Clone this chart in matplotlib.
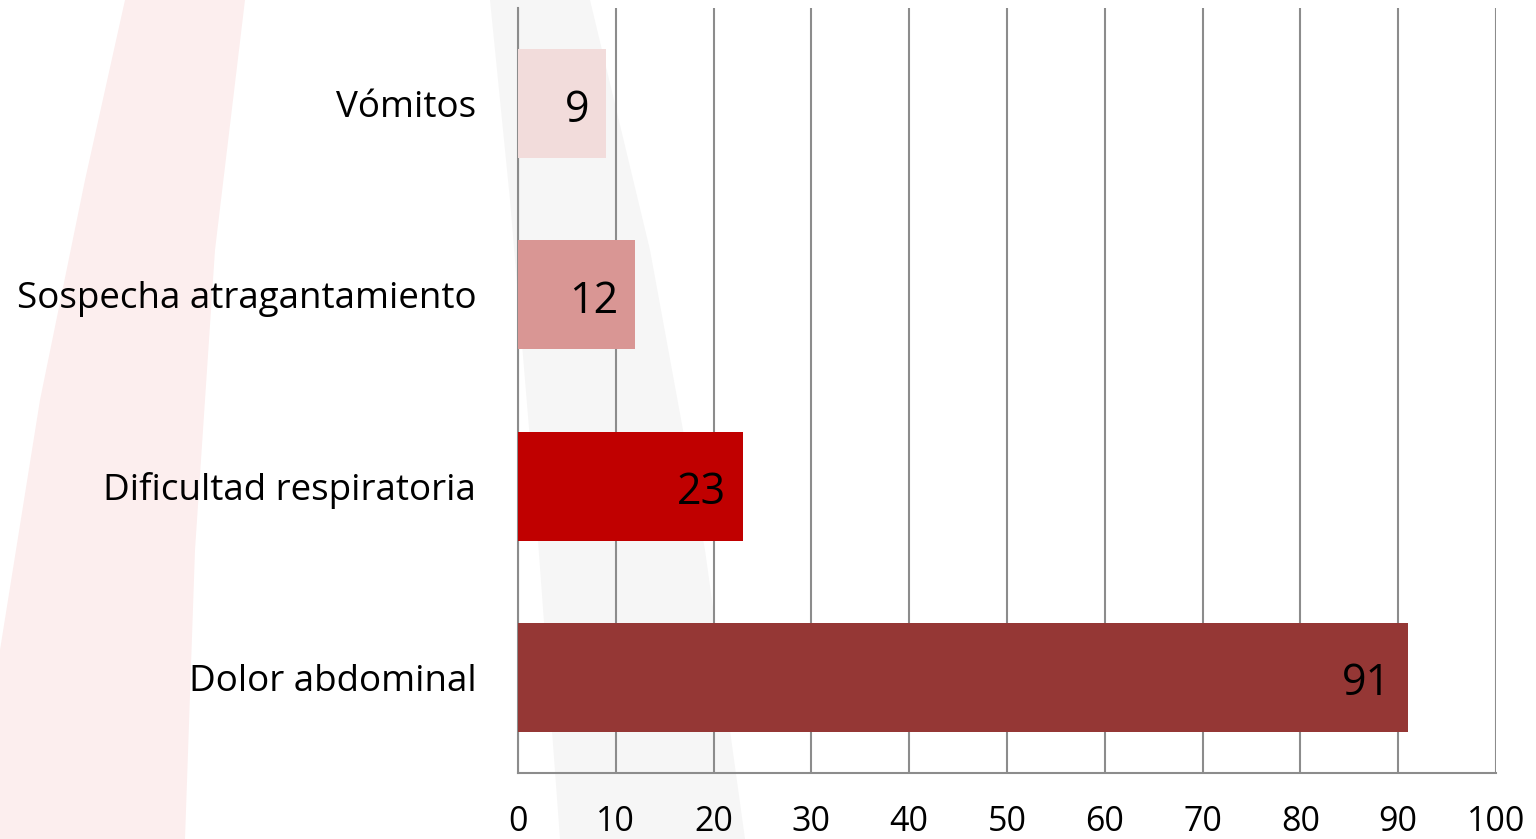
import numpy as np
import matplotlib.pyplot as plt
from matplotlib.patches import Polygon

plt.rcParams['font.family'] = ['Open Sans', 'DejaVu Sans']

categories = ['Dolor abdominal', 'Dificultad respiratoria', 'Sospecha atragantamiento', 'Vómitos']
values = [91, 23, 12, 9]
colors = ['#953735', '#C00000', '#D99694', '#F2DCDB']
xticks = [0, 10, 20, 30, 40, 50, 60, 70, 80, 90, 100]

fig = plt.figure(figsize=(15.36, 8.39), dpi=100)

# background decoration (slide shapes), figure pixel coords
W, H = 1536.0, 839.0
pink = [(125, 0), (245, 0), (215, 250), (195, 550), (185, 839), (0, 839), (0, 650), (40, 400), (85, 180)]
gray = [(490, 0), (590, 0), (650, 250), (705, 550), (745, 839), (560, 839), (535, 500), (510, 200)]
for pts, c in [(pink, '#FCEEEE'), (gray, '#F6F6F6')]:
  fig.patches.append(Polygon([(x / W, 1 - y / H) for x, y in pts], closed=True,
                             transform=fig.transFigure, facecolor=c, edgecolor='none', zorder=0))

ax = fig.add_axes([518 / W, 1 - 773 / H, (1496 - 518) / W, (773 - 8) / H])
ax.set_zorder(2)
ax.patch.set_alpha(0)

y = np.arange(len(categories))
ax.barh(y, values, height=0.57, color=colors, zorder=3)

for yi, v in zip(y, values):
  ax.text(v - 1.7, yi - 0.035, str(v), ha='right', va='center', fontsize=31, color='black', zorder=4)

ax.set_xlim(0, 100)
ax.set_ylim(-0.5, len(categories) - 0.5)
ax.set_xticks(xticks)
ax.set_yticks(y)
ax.set_yticklabels(categories, fontsize=26.5)
ax.tick_params(axis='x', length=0, pad=23, labelsize=24.5)
ax.tick_params(axis='y', length=0, pad=30)
ax.grid(axis='x', color='#8C8C8C', linewidth=1.5, zorder=1)
for s in ['top', 'right']:
  ax.spines[s].set_visible(False)
for s in ['left', 'bottom']:
  ax.spines[s].set_color('#8C8C8C')
  ax.spines[s].set_linewidth(1.5)

fig.savefig('out.png', dpi=100)
